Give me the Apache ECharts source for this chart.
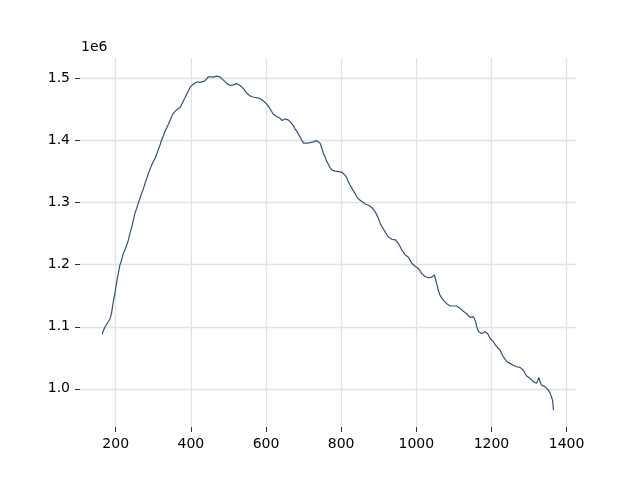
<!DOCTYPE html>
<html>
<head>
<meta charset="utf-8">
<script src="https://cdn.jsdelivr.net/npm/echarts@6/dist/echarts.min.js"></script>
<style>html,body{margin:0;padding:0;background:#fff}#c{width:640px;height:480px}</style>
</head>
<body>
<div id="c"></div>
<script>
// x positions
const xValues = [164,168,172,176,180,185,189,193,198,202,207,211,216,220,225,229,234,238,243,247,251,256,260,265,269,274,278,283,287,292,296,300,305,309,313,318,322,327,331,336,340,345,349,353,358,364,371,376,380,385,389,394,398,404,411,418,424,429,436,442,446,448,454,460,465,469,473,477,480,486,491,496,500,505,509,513,517,522,526,531,535,540,544,548,553,558,562,567,571,578,584,589,593,598,602,607,611,615,619,624,628,633,637,643,647,651,655,659,664,668,673,677,682,686,691,695,700,704,709,713,718,722,726,730,735,740,744,748,752,757,761,766,770,775,779,784,788,793,797,802,806,811,815,819,823,828,832,837,841,846,850,855,859,864,868,873,877,882,886,891,895,899,905,910,915,920,925,930,935,940,945,952,957,961,966,970,975,979,984,988,992,996,1001,1005,1010,1014,1019,1023,1028,1032,1037,1041,1045,1048,1051,1054,1058,1063,1067,1072,1076,1081,1085,1090,1094,1098,1103,1107,1112,1116,1121,1125,1130,1134,1139,1143,1148,1152,1155,1158,1162,1166,1169,1174,1178,1183,1187,1191,1196,1200,1205,1209,1214,1218,1223,1227,1231,1236,1240,1245,1249,1253,1258,1262,1267,1271,1276,1280,1285,1289,1294,1298,1302,1307,1311,1315,1320,1323,1326,1329,1333,1338,1342,1346,1351,1356,1360,1363,1365];
// values in millions (axis offset text "1e6")
const yValues = [1.088,1.095,1.100,1.102,1.108,1.113,1.122,1.138,1.154,1.170,1.186,1.199,1.208,1.218,1.224,1.231,1.240,1.251,1.261,1.272,1.283,1.291,1.299,1.308,1.315,1.323,1.331,1.340,1.347,1.355,1.361,1.366,1.372,1.378,1.385,1.393,1.401,1.408,1.415,1.421,1.426,1.433,1.439,1.444,1.447,1.451,1.453,1.459,1.464,1.470,1.475,1.481,1.486,1.490,1.493,1.495,1.494,1.497,1.496,1.4995,1.503,1.505,1.503,1.5025,1.503,1.504,1.506,1.503,1.500,1.498,1.4955,1.492,1.490,1.489,1.488,1.490,1.490,1.492,1.491,1.489,1.487,1.484,1.481,1.477,1.474,1.472,1.471,1.470,1.470,1.469,1.468,1.466,1.464,1.462,1.459,1.455,1.451,1.447,1.443,1.441,1.439,1.437,1.4365,1.4325,1.434,1.435,1.434,1.4335,1.431,1.428,1.424,1.419,1.415,1.411,1.406,1.401,1.396,1.395,1.396,1.396,1.397,1.397,1.398,1.398,1.400,1.398,1.396,1.389,1.381,1.374,1.3675,1.362,1.357,1.353,1.351,1.351,1.351,1.350,1.3495,1.349,1.347,1.344,1.340,1.334,1.329,1.324,1.3195,1.315,1.310,1.306,1.3035,1.302,1.300,1.298,1.2975,1.296,1.295,1.292,1.289,1.285,1.280,1.275,1.265,1.260,1.255,1.250,1.245,1.242,1.241,1.242,1.240,1.2345,1.229,1.224,1.220,1.216,1.214,1.212,1.207,1.2025,1.200,1.198,1.196,1.194,1.190,1.186,1.183,1.181,1.180,1.179,1.180,1.180,1.181,1.1835,1.177,1.170,1.160,1.151,1.147,1.143,1.140,1.137,1.135,1.1335,1.134,1.1335,1.133,1.1335,1.131,1.130,1.127,1.125,1.122,1.121,1.118,1.115,1.112,1.116,1.119,1.108,1.0975,1.092,1.0895,1.089,1.0895,1.092,1.094,1.088,1.0815,1.079,1.076,1.072,1.068,1.065,1.0625,1.057,1.052,1.048,1.044,1.042,1.041,1.040,1.038,1.037,1.0355,1.035,1.0345,1.032,1.030,1.025,1.0205,1.018,1.017,1.014,1.0115,1.010,1.009,1.013,1.0185,1.012,1.006,1.005,1.0035,1.001,0.998,0.993,0.987,0.980,0.9655];
const xTicks = [200,400,600,800,1000,1200,1400];
const yTicks = [1.0,1.1,1.2,1.3,1.4,1.5];
const offsetText = '1e6';

const data = xValues.map((x, i) => [x, yValues[i]]);
const gridLines = xTicks.map(v => ({xAxis: v})).concat(yTicks.map(v => ({yAxis: v})));

const chart = echarts.init(document.getElementById('c'), null, {renderer: 'canvas'});
const font = 'DejaVu Sans';
chart.setOption({
  animation: false,
  backgroundColor: '#ffffff',
  grid: {left: 80, right: 64, top: 58, bottom: 53},
  xAxis: {
    type: 'value', min: 105, max: 1425,
    axisLine: {show: false},
    splitLine: {show: false},
    axisTick: {show: true, length: 5, customValues: xTicks, lineStyle: {color: '#333', width: 1}},
    axisLabel: {customValues: xTicks, margin: 10, color: '#000', fontFamily: font, fontSize: 14,
      formatter: v => String(Math.round(v))}
  },
  yAxis: {
    type: 'value', min: 0.9384, max: 1.5333,
    axisLine: {show: false},
    splitLine: {show: false},
    axisTick: {show: true, length: 5, customValues: yTicks, lineStyle: {color: '#333', width: 1}},
    axisLabel: {customValues: yTicks, margin: 10, color: '#000', fontFamily: font, fontSize: 14,
      formatter: v => v.toFixed(1)}
  },
  graphic: [{
    type: 'text', left: 81, top: 40,
    style: {text: offsetText, fill: '#000', font: '14px "DejaVu Sans"'}
  }],
  series: [{
    type: 'line', data: data, showSymbol: false, z: 3,
    lineStyle: {color: '#34507a', width: 1.2},
    markLine: {
      silent: true, symbol: 'none', z: 1, animation: false,
      label: {show: false},
      lineStyle: {color: '#e2e2e2', width: 1.3, type: 'solid'},
      data: gridLines
    }
  }]
});
</script>
</body>
</html>
